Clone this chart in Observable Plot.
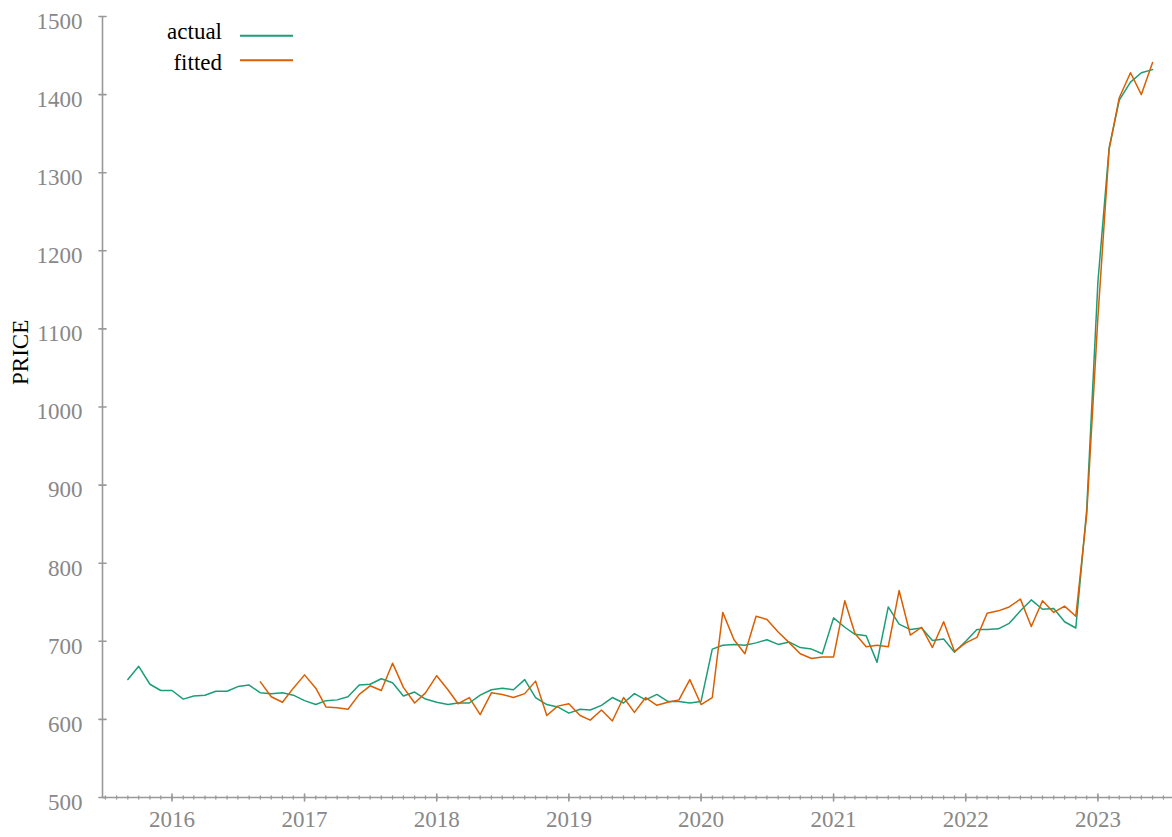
<!DOCTYPE html>
<html><head><meta charset="utf-8">
<script src="https://cdn.jsdelivr.net/npm/d3@7"></script>
<script src="https://cdn.jsdelivr.net/npm/@observablehq/plot@0.6"></script>
<style>
body{margin:0;background:#fff;}
#wrap{position:relative;width:1172px;height:837px;font-family:"Liberation Serif","Times New Roman",serif;}
#wrap svg text{font-family:"Liberation Serif","Times New Roman",serif !important;font-variant:normal !important;}
#legend{position:absolute;left:0;top:0;}
</style></head><body>
<div id="wrap"></div>
<script>
// ---- data ----
const actualStart = "2015-09";
const actual = [651,668,645,637,
  637,626,630,631,636,636,642,644,634,633,634,631,
  624,619,624,625,629,644,645,652,647,630,635,626,
  622,619,621,621,631,638,640,638,651,628,619,616,
  608,613,612,618,628,621,633,625,632,623,623,621,
  623,690,695,696,695,698,702,696,699,692,690,684,
  730,718,709,707,673,744,722,715,717,701,703,686,
  700,715,715,716,723,739,753,741,742,725,717,868,
  1160,1332,1393,1416,1428,1432];
const fittedStart = "2016-09";
const fitted = [648,629,622,640,
  657,640,616,615,613,632,643,637,672,641,621,634,
  656,638,620,628,606,634,632,628,633,649,605,617,
  620,605,599,612,598,628,609,628,618,622,625,651,
  619,628,737,702,684,732,728,712,698,684,678,680,
  680,752,710,693,695,693,765,708,718,692,725,687,
  698,705,736,739,744,754,719,752,737,745,732,862,
  1115,1330,1396,1428,1400,1441];
const seriesNames = ["actual", "fitted"];
const seriesColors = ["#1b9e77", "#d95f02"];
const yTicks = [500,600,700,800,900,1000,1100,1200,1300,1400,1500];
const yearTicks = ["2016","2017","2018","2019","2020","2021","2022","2023"];
const xDomain = ["2015-06-23", "2023-07-26"];
const yLabel = "PRICE";

// ---- build table ----
function months(start, n) {
  const [y, m] = start.split("-").map(Number);
  return Array.from({length: n}, (_, i) => new Date(Date.UTC(y, m - 1 + i, 1)));
}
const aDates = months(actualStart, actual.length);
const fDates = months(fittedStart, fitted.length);
const rows = [
  ...actual.map((v, i) => ({date: aDates[i], value: v, series: seriesNames[0]})),
  ...fitted.map((v, i) => ({date: fDates[i], value: v, series: seriesNames[1]}))
];
const dom = xDomain.map(s => new Date(s + "T00:00:00Z"));
const yearDates = yearTicks.map(s => new Date(Date.UTC(+s, 0, 1)));
const monthDates = d3.utcMonth.range(dom[0], dom[1]);
const axisGray = "#999";
const labelGray = "#888";
const serif = '"Liberation Serif","Times New Roman",serif';
const stem = {draw(context, l) { context.moveTo(0, 0); context.lineTo(0, -l); }};

const chart = Plot.plot({
  width: 1172,
  height: 837,
  marginLeft: 102,
  marginRight: 0,
  marginTop: 16,
  marginBottom: 40,
  style: {fontFamily: serif, fontSize: "23px", background: "white"},
  x: {type: "utc", domain: dom, axis: null},
  y: {domain: [500, 1500], axis: null},
  color: {domain: seriesNames, range: seriesColors},
  marks: [
    Plot.ruleX([dom[0]], {stroke: axisGray, strokeWidth: 1.6}),
    Plot.ruleY([500], {stroke: axisGray, strokeWidth: 1.6}),
    Plot.vector(monthDates, {x: d => d, frameAnchor: "bottom", length: 3, rotate: 0, shape: stem, stroke: axisGray, strokeWidth: 1.3}),
    Plot.vector(yearDates, {x: d => d, frameAnchor: "bottom", length: 7, rotate: 0, shape: stem, stroke: axisGray, strokeWidth: 1.6}),
    Plot.vector(yTicks, {y: d => d, frameAnchor: "left", length: 7, rotate: 90, shape: stem, stroke: axisGray, strokeWidth: 1.6}),
    Plot.text(yTicks, {y: d => d, text: d => String(d), frameAnchor: "left", dx: -20, dy: 5, textAnchor: "end", fontSize: 23, fontFamily: serif, fill: labelGray}),
    Plot.text(yearDates, {x: d => d, text: d => String(d.getUTCFullYear()), frameAnchor: "bottom", dy: 29, fontSize: 23, fontFamily: serif, fill: labelGray}),
    Plot.lineY(rows, {x: "date", y: "value", stroke: "series", z: "series", strokeWidth: 1.5}),
    Plot.text([yLabel], {frameAnchor: "left", dx: -82, dy: -22, rotate: -90, fontSize: 23, fontFamily: serif, fill: "black"})
  ]
});
const wrap = document.getElementById("wrap");
wrap.appendChild(chart);

// ---- legend ----
const ns = "http://www.w3.org/2000/svg";
const leg = document.createElementNS(ns, "svg");
leg.setAttribute("id", "legend");
leg.setAttribute("width", 320);
leg.setAttribute("height", 80);
seriesNames.forEach((name, i) => {
  const ly = 35.7 + i * 24.5;
  const t = document.createElementNS(ns, "text");
  t.setAttribute("x", 222);
  t.setAttribute("y", ly + 3.5 + i * 6);
  t.setAttribute("text-anchor", "end");
  t.setAttribute("font-size", 23);
  t.setAttribute("font-family", serif);
  t.setAttribute("fill", "black");
  t.textContent = name;
  leg.appendChild(t);
  const l = document.createElementNS(ns, "line");
  l.setAttribute("x1", 240); l.setAttribute("x2", 293);
  l.setAttribute("y1", ly); l.setAttribute("y2", ly);
  l.setAttribute("stroke", seriesColors[i]);
  l.setAttribute("stroke-width", 2);
  leg.appendChild(l);
});
wrap.appendChild(leg);
</script>
</body></html>
